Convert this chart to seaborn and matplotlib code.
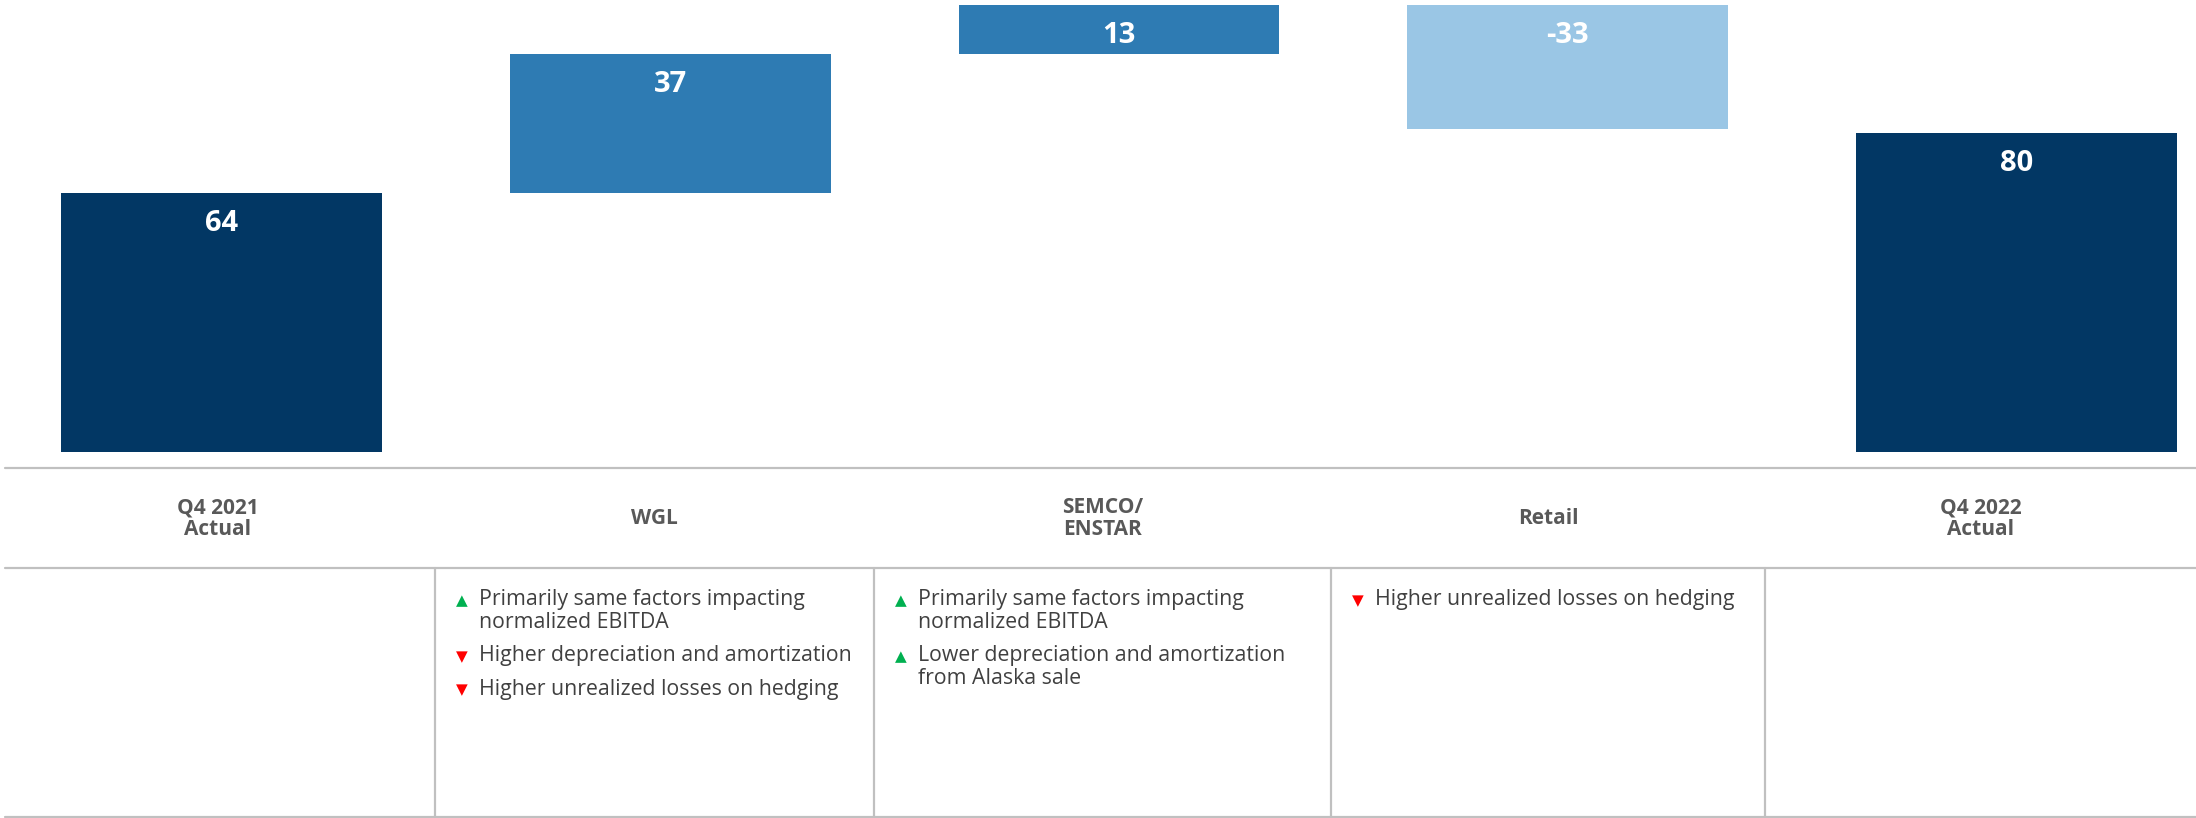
import numpy as np
import pandas as pd
import matplotlib
matplotlib.use("Agg")
import matplotlib.pyplot as plt
import seaborn as sns

# Waterfall: Q4 2021 -> Q4 2022 bridge
categories = ["Q4 2021\nActual", "WGL", "SEMCO/\nENSTAR", "Retail", "Q4 2022\nActual"]
values = [64, 37, 13, -33, 80]
is_total = [True, False, False, False, True]
bar_colors = ["#023764", "#2E7BB3", "#2E7BB3", "#9AC6E5", "#023764"]

# commentary under each step ("up" = green triangle, "down" = red triangle)
notes = [
    [],
    [("up", "Primarily same factors impacting\nnormalized EBITDA"),
     ("down", "Higher depreciation and amortization"),
     ("down", "Higher unrealized losses on hedging")],
    [("up", "Primarily same factors impacting\nnormalized EBITDA"),
     ("up", "Lower depreciation and amortization\nfrom Alaska sale")],
    [("down", "Higher unrealized losses on hedging")],
    [],
]

sns.set_theme(style="white")
plt.rcParams["font.family"] = ["Open Sans", "DejaVu Sans"]

W, H = 2196, 818
fig = plt.figure(figsize=(W / 100, H / 100), dpi=100)

def fx(px):
    return px / W

def fy(py):
    return 1 - py / H

# value axis does not start at zero in the original slide
Y_FLOOR, Y_TOP = -4.7, 115.4

# build the floating bars
bottoms, heights, tops = [], [], []
running = 0
for v, tot in zip(values, is_total):
    if tot:
        bottoms.append(Y_FLOOR)
        heights.append(v - Y_FLOOR)
        running = v
    else:
        bottoms.append(running + min(v, 0))
        heights.append(abs(v))
        running += v
    tops.append(bottoms[-1] + heights[-1])

df = pd.DataFrame({"step": categories, "height": heights})

bar_bottom_px = 451.7
ax = fig.add_axes([0, fy(bar_bottom_px), 1, bar_bottom_px / H])
sns.barplot(data=df, x="step", y="height", bottom=np.array(bottoms), width=0.715,
            color=bar_colors[0], saturation=1, errorbar=None, ax=ax)
for patch, c in zip(ax.patches, bar_colors):
    patch.set_facecolor(c)
    patch.set_edgecolor("none")
ax.set_xlim(-0.4936, 4.4)
ax.set_ylim(Y_FLOOR, Y_TOP)
ax.axis("off")

for i, (v, t) in enumerate(zip(values, tops)):
    ax.annotate(f"{v}", xy=(i, t), xytext=(0, -22), textcoords="offset points",
                ha="center", va="center", color="white", fontsize=21, fontweight="bold")

# table grid
grid_c = "#C0C0C0"
separators = [435, 874, 1331, 1765]
def hline(y, x0=5, x1=W):
    fig.add_artist(plt.Line2D([fx(x0), fx(x1)], [fy(y), fy(y)], color=grid_c, lw=1.6,
                              transform=fig.transFigure))
hline(467.7)
hline(568)
hline(817)
for sx in separators:
    fig.add_artist(plt.Line2D([fx(sx), fx(sx)], [fy(568), fy(818)], color=grid_c, lw=1.6,
                              transform=fig.transFigure))

# category labels centred in their columns
edges = [0] + separators + [W]
for i, cat in enumerate(categories):
    cx = (edges[i] + edges[i + 1]) / 2
    fig.text(fx(cx), fy(518.5), cat, ha="center", va="center", color="#595959",
             fontsize=15, fontweight="bold", linespacing=1.05)

# bullet notes
line_h, gap = 23, 10
for i, items in enumerate(notes):
    y = 600
    for kind, txt in items:
        color = "#00B050" if kind == "up" else "#FF0000"
        mark = "\u25B2" if kind == "up" else "\u25BC"
        fig.text(fx(edges[i] + 27), fy(y + 1), mark, ha="center", va="center",
                 color=color, fontsize=11, family="DejaVu Sans")
        for line in txt.split("\n"):
            fig.text(fx(edges[i] + 44), fy(y), line, ha="left", va="center",
                     color="#404040", fontsize=15.3)
            y += line_h
        y += gap

fig.savefig("out.png", dpi=100, facecolor="white")
